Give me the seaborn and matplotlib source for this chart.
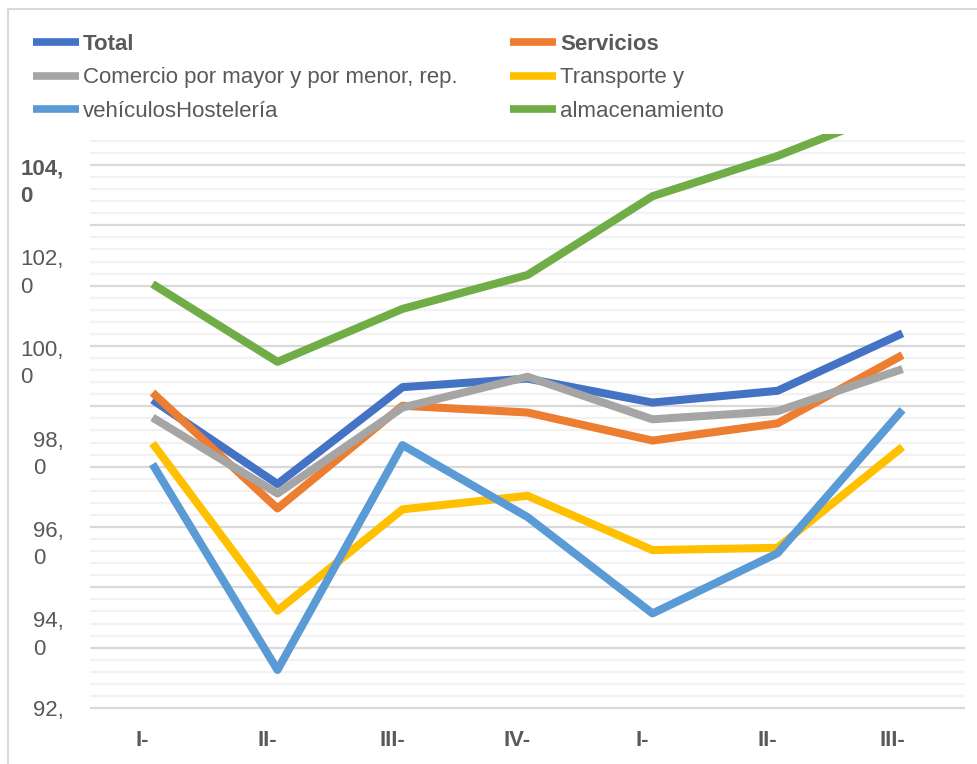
import numpy as np
import pandas as pd
import matplotlib
matplotlib.use("Agg")
import matplotlib.pyplot as plt
from matplotlib.lines import Line2D
from matplotlib.patches import Rectangle
from matplotlib.transforms import ScaledTranslation
import seaborn as sns

# ---- data ----
periodos = ["I-", "II-", "III-", "IV-", "I-", "II-", "III-"]
total = [98.81, 96.95, 99.09, 99.28, 98.75, 99.01, 100.28]
servicios = [98.97, 96.41, 98.68, 98.53, 97.91, 98.29, 99.80]
comercio = [98.42, 96.74, 98.64, 99.32, 98.38, 98.56, 99.49]
transporte = [97.85, 94.15, 96.39, 96.69, 95.49, 95.54, 97.77]
hosteleria = [97.39, 92.84, 97.81, 96.22, 94.09, 95.42, 98.59]
almacenamiento = [101.37, 99.65, 100.82, 101.57, 103.31, 104.20, 105.28]

series = {
    "Total": total,
    "Servicios": servicios,
    "Comercio por mayor y por menor, rep.": comercio,
    "Transporte y": transporte,
    "vehículosHostelería": hosteleria,
    "almacenamiento": almacenamiento,
}
colores = {
    "Total": "#4472C4",
    "Servicios": "#ED7D31",
    "Comercio por mayor y por menor, rep.": "#A5A5A5",
    "Transporte y": "#FFC000",
    "vehículosHostelería": "#5B9BD5",
    "almacenamiento": "#70AD47",
}
ytick_pos = [92, 94, 96, 98, 100, 102, 104]
ytick_lab = ["92,", "94,\n0", "96,\n0", "98,\n0", "100,\n0", "102,\n0", "104,\n0"]

df = pd.concat(
    [pd.DataFrame({"pos": np.arange(len(periodos)), "valor": v, "serie": k})
     for k, v in series.items()],
    ignore_index=True,
)

sns.set_style("white")
plt.rcParams["font.family"] = ["Liberation Sans", "DejaVu Sans"]
gris = "#595959"

fig = plt.figure(figsize=(9.78, 7.64), dpi=100)
W, H = 978, 764
ax = fig.add_axes([90 / W, (H - 708) / H, 875 / W, (708 - 134) / H])

# gridlines: major every 4/3, minor every 4/15 (as in the reference)
for i in range(48):
    yv = 92 + i * 4 / 15
    major = i % 5 == 0
    ax.axhline(yv, color="#D9D9D9" if major else "#F2F2F2",
               lw=1.6, zorder=0, clip_on=False)

sns.lineplot(data=df, x="pos", y="valor", hue="serie", palette=colores,
             hue_order=list(series.keys()), linewidth=5.8, sort=False,
             legend=False, ax=ax)
for ln in ax.get_lines():
    ln.set_solid_joinstyle("round")
    ln.set_solid_capstyle("butt")

ax.set_xlim(-0.5, 6.5)
ax.set_ylim(92, 92 + (708 - 134) / 45.25)
for s in ax.spines.values():
    s.set_visible(False)
ax.set_xlabel("")
ax.set_ylabel("")

ax.set_xticks(np.arange(len(periodos)), labels=periodos)
ax.tick_params(axis="x", length=0, pad=16, labelsize=16, labelcolor=gris)
off = ScaledTranslation(-10 / 100, 0, fig.dpi_scale_trans)
for t in ax.get_xticklabels():
    t.set_fontweight("bold")
    t.set_transform(t.get_transform() + off)

ax.set_yticks(ytick_pos, labels=ytick_lab)
ax.tick_params(axis="y", length=0, pad=19, labelsize=16, labelcolor=gris)
up = ScaledTranslation(0, 6 / 100, fig.dpi_scale_trans)
for t in ax.get_yticklabels():
    t.set_multialignment("left")
    t.set_linespacing(1.4)
    if "\n" in t.get_text():
        t.set_va("top")
        t.set_transform(t.get_transform() + up)
    else:
        t.set_va("center_baseline")
    if t.get_text().startswith("104"):
        t.set_fontweight("bold")

# legend in two blocks of three rows
nombres = list(series.keys())
for cols, x0 in ((nombres[0::2], 33), (nombres[1::2], 510)):
    handles = [Line2D([], [], color=colores[n], lw=5.5, solid_capstyle="butt")
               for n in cols]
    leg = fig.legend(handles, cols, loc="upper left",
                     bbox_to_anchor=(x0 / W, 1 - 34 / H), frameon=False,
                     fontsize=16, handlelength=2.05, handletextpad=0.2,
                     labelspacing=0.56, borderpad=0, borderaxespad=0)
    for t in leg.get_texts():
        t.set_color(gris)
        if t.get_text() in ("Total", "Servicios"):
            t.set_fontweight("bold")

# light frame around the chart area
fig.patches.append(Rectangle((8 / W, -0.1), 1.2, (H - 9) / H + 0.1,
                             transform=fig.transFigure,
                             fill=False, edgecolor="#D9D9D9", lw=1.5))

fig.savefig("out.png", dpi=100)
